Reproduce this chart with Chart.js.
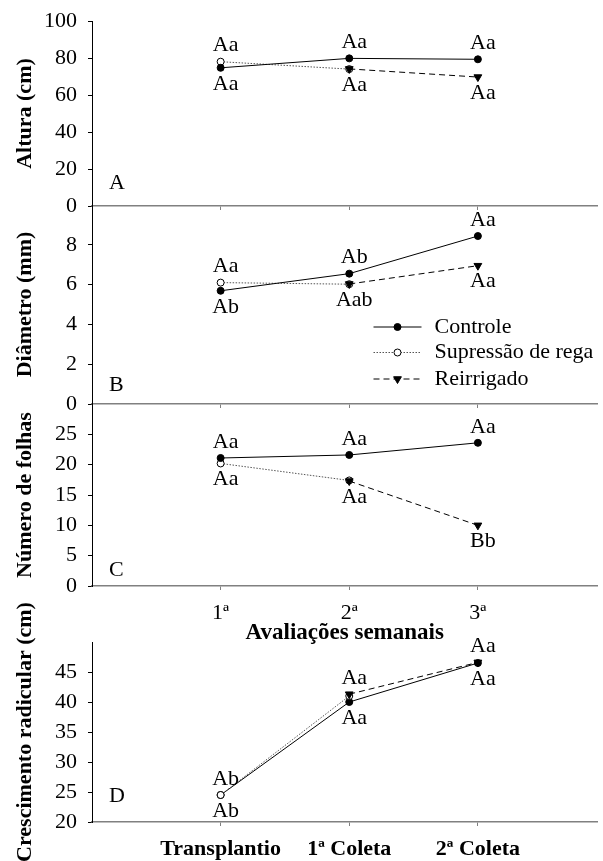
<!DOCTYPE html>
<html lang="pt">
<head>
<meta charset="UTF-8"/>
<meta name="viewport" content="width=device-width, initial-scale=1.0"/>
<title>Crescimento das mudas</title>
<script src="https://cdn.jsdelivr.net/npm/chart.js"></script>
<style>
    html, body {
        margin: 0;
        padding: 0;
        background: #fff;
    }
    .painel {
        position: relative;
        width: 603px;
        height: 861px;
        overflow: hidden;
    }
    .painel canvas {
        position: absolute;
        left: 0;
    }
</style>
</head>
<body>
<div class="painel">
    <canvas id="chartA" width="603" height="246" style="top:-10px"></canvas>
    <canvas id="chartB" width="603" height="259" style="top:175px"></canvas>
    <canvas id="chartC" width="603" height="276" style="top:374px"></canvas>
    <canvas id="chartD" width="603" height="272" style="top:590px"></canvas>
</div>

<script>
    // categorias e nomes das séries
    const semanas = ['1ª', '2ª', '3ª'];
    const coletas = ['Transplantio', '1ª Coleta', '2ª Coleta'];
    const series = ['Controle', 'Supressão de rega', 'Reirrigado'];

    // A - altura (cm)
    const alturaControle = [74.7, 79.8, 79.3];
    const alturaSupressao = [78.0, 74.0, null];
    const alturaReirrigado = [null, 74.1, 69.7];
    const alturaAcima = ['Aa', 'Aa', 'Aa'];
    const alturaAbaixo = ['Aa', 'Aa', 'Aa'];
    const alturaTicks = [0, 20, 40, 60, 80, 100];

    // B - diametro (mm)
    const diametroControle = [5.69, 6.55, 8.44];
    const diametroSupressao = [6.10, 6.02, null];
    const diametroReirrigado = [null, 6.03, 6.95];
    const diametroAcima = ['Aa', 'Ab', 'Aa'];
    const diametroAbaixo = ['Ab', 'Aab', 'Aa'];
    const diametroTicks = [0, 2, 4, 6, 8];

    // C - numero de folhas
    const folhasControle = [21.1, 21.6, 23.6];
    const folhasSupressao = [20.2, 17.4, null];
    const folhasReirrigado = [null, 17.3, 10.0];
    const folhasAcima = ['Aa', 'Aa', 'Aa'];
    const folhasAbaixo = ['Aa', 'Aa', 'Bb'];
    const folhasTicks = [0, 5, 10, 15, 20, 25];

    // D - crescimento radicular (cm)
    const raizControle = [24.5, 40.0, 46.5];
    const raizSupressao = [24.5, 41.0, null];
    const raizReirrigado = [null, 41.3, 46.6];
    const raizAcima = ['Ab', 'Aa', 'Aa'];
    const raizAbaixo = ['Ab', 'Aa', 'Aa'];
    const raizTicks = [20, 25, 30, 35, 40, 45];

    const FONTE = '"Liberation Serif", "Times New Roman", serif';

    const estilos = [
        {borderColor: '#000', borderWidth: 1, borderDash: [], pointStyle: 'circle', pointRadius: 3.5,
         pointBackgroundColor: '#000', pointBorderColor: '#000', pointBorderWidth: 1, pointRotation: 0},
        {borderColor: '#555', borderWidth: 1, borderDash: [1.5, 1.5], pointStyle: 'circle', pointRadius: 3.5,
         pointBackgroundColor: '#fff', pointBorderColor: '#000', pointBorderWidth: 1, pointRotation: 0},
        {borderColor: '#000', borderWidth: 1, borderDash: [6, 4], pointStyle: 'triangle', pointRadius: 4.5,
         pointBackgroundColor: '#000', pointBorderColor: '#000', pointBorderWidth: 1, pointRotation: 180}
    ];

    // letras sobre/sob os pontos
    const rotulos = {
        id: 'rotulos',
        afterDatasetsDraw(chart, args, opts) {
            const {ctx, scales: {x, y}} = chart;
            ctx.save();
            ctx.font = '22px ' + FONTE;
            ctx.fillStyle = '#000';
            ctx.textAlign = 'center';
            ctx.textBaseline = 'middle';
            opts.acima.forEach((txt, i) => {
                const vals = chart.data.datasets.map(d => d.data[i].y).filter(v => v != null);
                const px = x.getPixelForValue(i + 1) + 5;
                ctx.fillText(txt, px, y.getPixelForValue(Math.max(...vals)) - 16);
                ctx.fillText(opts.abaixo[i], px, y.getPixelForValue(Math.min(...vals)) + 16);
            });
            ctx.textAlign = 'left';
            ctx.fillText(opts.letra, chart.chartArea.left + 17, y.getPixelForValue(opts.letraY));
            ctx.restore();
        }
    };

    // legenda com linha + marcador (so no painel B)
    const legenda = {
        id: 'legenda',
        afterDraw(chart) {
            const {ctx, chartArea} = chart;
            const x0 = chartArea.right - 224, x1 = chartArea.right - 176;
            const linhas = [122, 147.5, 174];
            ctx.save();
            series.forEach((nome, i) => {
                const e = estilos[i];
                const yy = chartArea.top + linhas[i];
                ctx.strokeStyle = e.borderColor;
                ctx.lineWidth = e.borderWidth;
                ctx.setLineDash(e.borderDash);
                ctx.beginPath();
                ctx.moveTo(x0, yy);
                ctx.lineTo(x1, yy);
                ctx.stroke();
                ctx.setLineDash([]);
                ctx.fillStyle = e.pointBackgroundColor;
                ctx.strokeStyle = e.pointBorderColor;
                Chart.helpers.drawPoint(ctx, {
                    pointStyle: e.pointStyle, rotation: e.pointRotation,
                    radius: e.pointRadius, borderWidth: e.pointBorderWidth
                }, (x0 + x1) / 2, yy);
                ctx.fillStyle = '#000';
                ctx.font = '22px ' + FONTE;
                ctx.textAlign = 'left';
                ctx.textBaseline = 'middle';
                ctx.fillText(nome, chartArea.right - 163, yy);
            });
            ctx.restore();
        }
    };

    function makePanel(id, cfg) {
        // ordem de desenho: menor = por cima
        const ordem = cfg.ordem || [0, 2, 1];
        const datasets = cfg.valores.map((vals, k) => Object.assign({
            label: series[k],
            data: vals.map((v, i) => ({x: i + 1, y: v})),
            spanGaps: false,
            fill: false,
            order: ordem[k]
        }, estilos[k]));

        return new Chart(document.getElementById(id), {
            type: 'line',
            data: {datasets},
            options: {
                responsive: false,
                animation: false,
                devicePixelRatio: 1,
                layout: {padding: {top: cfg.padTop, left: 0, right: 0, bottom: 0}},
                plugins: {
                    legend: {display: false},
                    tooltip: {enabled: false},
                    rotulos: {acima: cfg.acima, abaixo: cfg.abaixo, letra: cfg.letra, letraY: cfg.letraY}
                },
                scales: {
                    x: {
                        type: 'linear',
                        min: 0,
                        max: 3.93,
                        afterBuildTicks: s => { s.ticks = cfg.categorias.map((c, i) => ({value: i + 1})); },
                        afterFit: s => { s.height = cfg.xAltura; },
                        grid: {drawOnChartArea: false, drawTicks: true, tickLength: 4, color: '#808080'},
                        border: {display: true, color: '#808080', width: 1.5},
                        ticks: {
                            display: cfg.xRotulos,
                            autoSkip: false,
                            maxRotation: 0,
                            padding: 10,
                            color: '#000',
                            font: {family: FONTE, size: 22, weight: cfg.xNegrito ? 'bold' : 'normal'},
                            callback: v => cfg.categorias[v - 1]
                        },
                        title: {
                            display: !!cfg.xTitulo,
                            text: cfg.xTitulo || '',
                            color: '#000',
                            font: {family: FONTE, size: 23, weight: 'bold'},
                            padding: {top: 0, bottom: 3}
                        }
                    },
                    y: {
                        min: cfg.yMin,
                        max: cfg.yMax,
                        afterBuildTicks: s => { s.ticks = cfg.yTicks.map(v => ({value: v})); },
                        afterFit: s => { s.width = 92; },
                        grid: {drawOnChartArea: false, drawTicks: true, tickLength: 4, color: '#000'},
                        border: {display: true, color: '#000', width: 1},
                        ticks: {color: '#000', padding: 11, font: {family: FONTE, size: 22}},
                        title: {
                            display: true,
                            text: cfg.yTitulo,
                            color: '#000',
                            font: {family: FONTE, size: 22, weight: 'bold'},
                            padding: {top: 12, bottom: 0}
                        }
                    }
                }
            },
            plugins: cfg.legenda ? [rotulos, legenda] : [rotulos]
        });
    }

    makePanel('chartA', {
        categorias: semanas, valores: [alturaControle, alturaSupressao, alturaReirrigado],
        acima: alturaAcima, abaixo: alturaAbaixo, yTicks: alturaTicks, yMin: 0, yMax: 100,
        yTitulo: 'Altura (cm)', letra: 'A', letraY: 12.4, padTop: 31, xAltura: 30, xRotulos: false
    });

    makePanel('chartB', {
        categorias: semanas, valores: [diametroControle, diametroSupressao, diametroReirrigado],
        acima: diametroAcima, abaixo: diametroAbaixo, yTicks: diametroTicks, yMin: 0, yMax: 10,
        yTitulo: 'Diâmetro (mm)', letra: 'B', letraY: 0.95, padTop: 30, xAltura: 30, xRotulos: false,
        legenda: true
    });

    makePanel('chartC', {
        categorias: semanas, valores: [folhasControle, folhasSupressao, folhasReirrigado],
        acima: folhasAcima, abaixo: folhasAbaixo, yTicks: folhasTicks, yMin: 0, yMax: 30,
        yTitulo: 'Número de folhas', letra: 'C', letraY: 2.6, padTop: 30, xAltura: 64, xRotulos: true,
        xTitulo: 'Avaliações semanais'
    });

    makePanel('chartD', {
        categorias: coletas, valores: [raizControle, raizSupressao, raizReirrigado],
        acima: raizAcima, abaixo: raizAbaixo, yTicks: raizTicks, yMin: 20, yMax: 50,
        yTitulo: 'Crescimento radicular (cm)', letra: 'D', letraY: 24.3, padTop: 52, xAltura: 40, xRotulos: true,
        xNegrito: true, ordem: [2, 1, 0]
    });
</script>
</body>
</html>
